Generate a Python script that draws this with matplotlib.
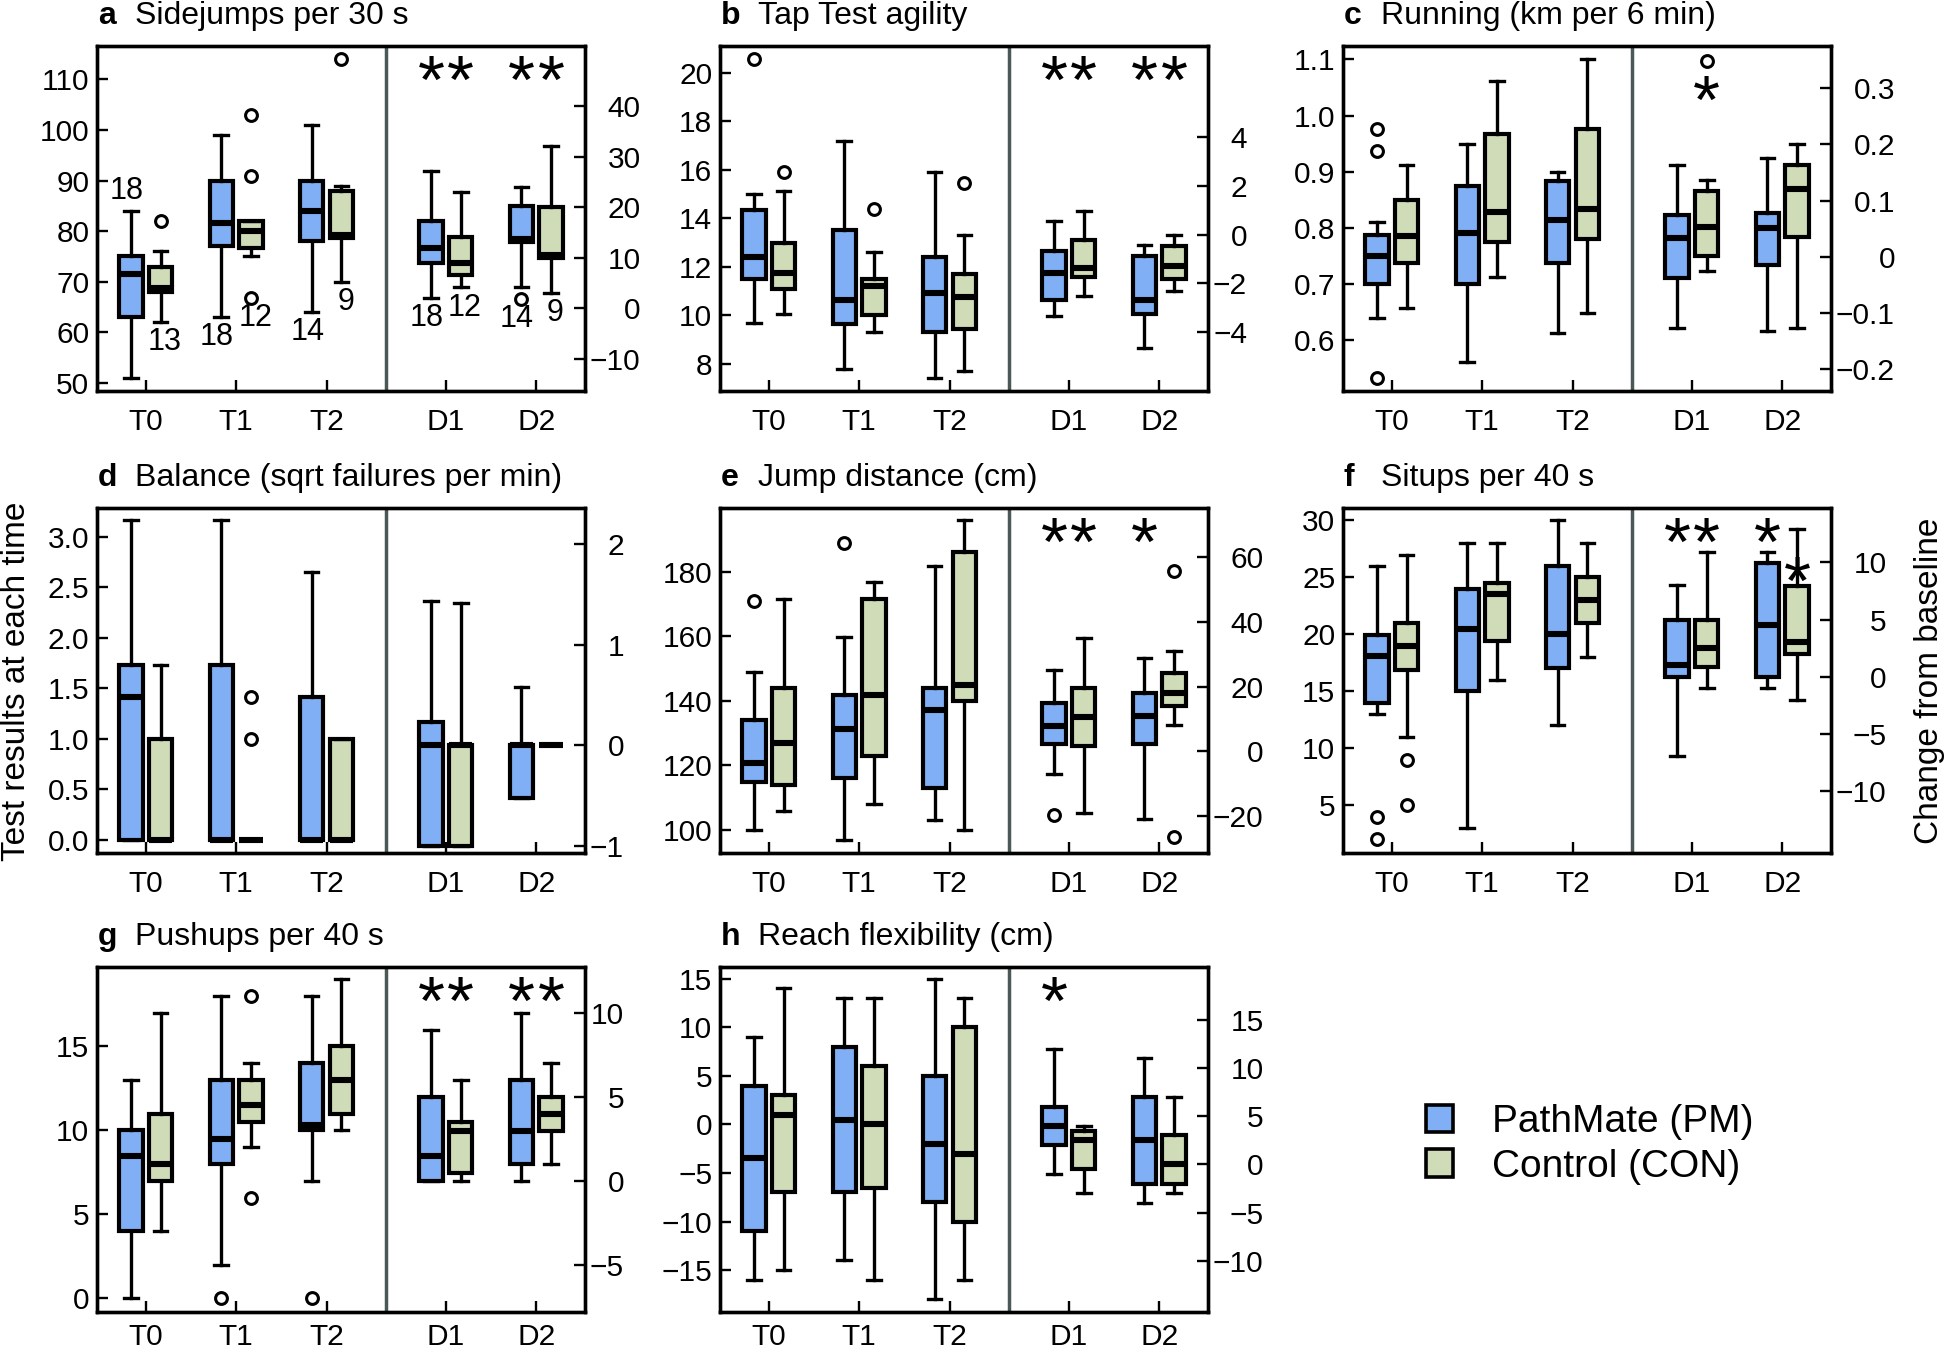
import numpy as np
import matplotlib.pyplot as plt
import matplotlib.transforms as mtransforms
from matplotlib.patches import Patch

plt.rcParams['font.family'] = ['Liberation Sans', 'DejaVu Sans']

times = ['T0', 'T1', 'T2', 'D1', 'D2']
groups = ['PathMate (PM)', 'Control (CON)']

# each row: [low whisker, q1, median, q3, high whisker] for T0, T1, T2, D1, D2
a_pm = [[51, 63, 71.6, 75, 84], [63, 77, 81.6, 90, 99], [64, 78, 84, 90, 101],
        [2.1, 9, 12, 17.3, 27.2], [4.1, 13, 13.7, 20.2, 24]]
a_con = [[62, 68, 68.8, 73, 76], [75, 76.6, 80, 82, 82], [70, 78.7, 79.2, 88, 89],
         [4.1, 6.6, 9, 14.1, 23], [3.1, 10, 10.5, 20.1, 32.1]]
a_pm_out = [[], [], [], [], [1.9]]
a_con_out = [[82], [103, 91, 66.8], [114], [], []]
a_n_pm = [18, 18, 14, 18, 14]
a_n_con = [13, 12, 9, 12, 9]

b_pm = [[9.7, 11.5, 12.4, 14.35, 15.0], [7.77, 9.66, 10.65, 13.5, 17.2], [7.42, 9.3, 10.9, 12.4, 15.9],
        [-3.36, -2.67, -1.58, -0.69, 0.57], [-4.66, -3.26, -2.67, -0.9, -0.42]]
b_con = [[10.06, 11.1, 11.75, 13.0, 15.13], [9.3, 10.0, 11.2, 11.5, 12.6], [7.7, 9.45, 10.74, 11.7, 13.3],
         [-2.51, -1.74, -1.37, -0.21, 0.95], [-2.34, -1.82, -1.3, -0.46, 0.0]]
b_pm_out = [[20.55], [], [], [], []]
b_con_out = [[15.9], [14.4], [15.45], [], []]

c_pm = [[0.64, 0.70, 0.75, 0.788, 0.811], [0.562, 0.70, 0.791, 0.875, 0.95], [0.614, 0.737, 0.814, 0.884, 0.90],
        [-0.126, -0.037, 0.034, 0.075, 0.164], [-0.132, -0.014, 0.051, 0.078, 0.175]]
c_con = [[0.658, 0.737, 0.785, 0.85, 0.912], [0.713, 0.775, 0.828, 0.967, 1.062], [0.649, 0.78, 0.834, 0.976, 1.10],
         [-0.025, 0.001, 0.053, 0.118, 0.137], [-0.126, 0.035, 0.12, 0.164, 0.20]]
c_pm_out = [[0.976, 0.938, 0.534], [], [], [], []]
c_con_out = [[], [], [], [0.349], []]

d_pm = [[0, 0, 1.417, 1.73, 3.17], [0, 0, 0, 1.73, 3.17], [0, 0, 0, 1.41, 2.65],
        [-1, -1, 0, 0.235, 1.437], [-0.52, -0.52, 0, 0, 0.583]]
d_con = [[0, 0, 0, 1.0, 1.73], [0, 0, 0, 0, 0], [0, 0, 0, 1.0, 1.0],
         [-1, -1, 0, 0, 1.417], [0, 0, 0, 0, 0]]
d_pm_out = [[], [], [], [], []]
d_con_out = [[], [1.417, 1.0], [], [], []]

e_pm = [[100, 114.8, 120.75, 134, 148.9], [96.7, 115.9, 131.1, 141.8, 159.8], [102.9, 112.8, 137.1, 143.9, 182],
        [-6.9, 2.1, 7.8, 15, 25], [-21, 2.1, 10.9, 17.9, 28.8]]
e_con = [[105.8, 113.8, 127, 143.9, 171.7], [107.8, 122.9, 141.8, 171.6, 176.9], [100, 140, 144.9, 186.1, 196.1],
         [-19, 1.6, 10.7, 19.5, 35], [8.1, 14.1, 18.1, 24.1, 31.1]]
e_pm_out = [[171], [189], [], [-19.8], []]
e_con_out = [[], [], [], [], [55.9, -26.7]]

f_pm = [[13, 14, 18.1, 19.95, 26], [3, 15, 20.5, 24, 28], [12, 17, 20, 26, 30],
        [-6.96, 0, 1, 5, 8], [-1, 0, 4.5, 9.94, 10.96]]
f_con = [[11, 16.9, 19, 21, 27], [16, 19.45, 23.5, 24.5, 28], [18, 21, 23, 25, 28],
         [-1, 0.88, 2.5, 5, 10.9], [-2, 1.96, 3, 7.9, 12.9]]
f_pm_out = [[4, 2], [], [], [], []]
f_con_out = [[9, 5], [], [], [], []]

g_pm = [[0, 4, 8.5, 10, 13], [2, 8, 9.5, 13, 18], [7, 10, 10.3, 14, 18],
        [0, 0, 1.5, 5, 9], [0, 1, 3, 6, 10]]
g_con = [[4, 7, 8, 11, 17], [9, 10.5, 11.5, 13, 14], [10, 11, 13, 15, 19],
         [0, 0.5, 3, 3.5, 6], [1, 3, 4, 5, 7]]
g_pm_out = [[], [0], [0], [], []]
g_con_out = [[], [18, 6], [], [], []]

h_pm = [[-16, -11, -3.5, 4, 9], [-14, -7, 0.5, 8, 13], [-18, -8, -2, 5, 15],
        [-1, 2, 4, 6, 12], [-4, -2, 2.5, 7, 11]]
h_con = [[-15, -7, 1, 3, 14], [-16, -6.5, 0, 6, 13], [-16, -10, -3, 10, 13],
         [-3, -0.5, 2.5, 3.5, 4], [-3, -2, 0, 3, 7]]
h_pm_out = [[], [], [], [], []]
h_con_out = [[], [], [], [], []]

# significance stars at D1, D2: (PM, CON)
a_sig = [('*', '*'), ('*', '*')]
b_sig = [('*', '*'), ('*', '*')]
c_sig = [('', '*'), ('', '')]
d_sig = [('', ''), ('', '')]
e_sig = [('*', '*'), ('*', '')]
f_sig = [('*', '*'), ('*', '*')]
g_sig = [('*', '*'), ('*', '*')]
h_sig = [('*', ''), ('', '')]

titles = ['Sidejumps per 30 s', 'Tap Test agility', 'Running (km per 6 min)',
          'Balance (sqrt failures per min)', 'Jump distance (cm)', 'Situps per 40 s',
          'Pushups per 40 s', 'Reach flexibility (cm)']
letters = ['a', 'b', 'c', 'd', 'e', 'f', 'g', 'h']

panels = [
    (a_pm, a_con, a_pm_out, a_con_out, a_sig, (48.4, 116.6), (-16.4, 51.9),
     np.arange(50, 111, 10), np.arange(-10, 41, 10), '%g'),
    (b_pm, b_con, b_pm_out, b_con_out, b_sig, (6.88, 21.1), (-6.43, 7.75),
     np.arange(8, 21, 2), np.arange(-4, 5, 2), '%g'),
    (c_pm, c_con, c_pm_out, c_con_out, c_sig, (0.51, 1.124), (-0.2385, 0.375),
     np.arange(0.6, 1.11, 0.1), np.arange(-0.2, 0.31, 0.1), '%.1f'),
    (d_pm, d_con, d_pm_out, d_con_out, d_sig, (-0.132, 3.288), (-1.066, 2.354),
     np.arange(0, 3.01, 0.5), np.arange(-1, 3, 1), '%.1f'),
    (e_pm, e_con, e_pm_out, e_con_out, e_sig, (92.7, 199.9), (-31.5, 75.3),
     np.arange(100, 181, 20), np.arange(-20, 61, 20), '%g'),
    (f_pm, f_con, f_pm_out, f_con_out, f_sig, (0.81, 31.08), (-15.44, 14.77),
     np.arange(5, 31, 5), np.arange(-10, 11, 5), '%g'),
    (g_pm, g_con, g_pm_out, g_con_out, g_sig, (-0.82, 19.73), (-7.8, 12.74),
     np.arange(0, 16, 5), np.arange(-5, 11, 5), '%g'),
    (h_pm, h_con, h_pm_out, h_con_out, h_sig, (-19.3, 16.2), (-15.3, 20.47),
     np.arange(-15, 16, 5), np.arange(-10, 16, 5), '%g'),
]

blue = '#80aff5'
green = '#d0dcb8'
fs = 21.5

W, H = 1946, 1354
fig = plt.figure(figsize=(W / 100, H / 100), dpi=100)

xpos = np.array([1, 2, 3, 4.32, 5.32])
sep = 3.66
off = 0.165
col_left = [97, 720, 1343]
row_top = [46, 508, 967]
xpad = [12, 12, 8]
pw, ph = 488, 345


def fmt(v, f):
    s = f % v
    if s in ('-0', '-0.0'):
        s = s[1:]
    return s.replace('-', '\u2212')


def stats(rows, outs):
    return [dict(whislo=s[0], q1=s[1], med=s[2], q3=s[3], whishi=s[4], fliers=o)
            for s, o in zip(rows, outs)]


def draw_boxes(ax, st, pos, color):
    ax.bxp(st, positions=pos, widths=0.26, capwidths=0.15, patch_artist=True,
           manage_ticks=False,
           boxprops=dict(facecolor=color, edgecolor='k', linewidth=3.0),
           medianprops=dict(color='k', linewidth=4.4, solid_capstyle='butt'),
           whiskerprops=dict(color='k', linewidth=2.4),
           capprops=dict(color='k', linewidth=2.4),
           flierprops=dict(marker='o', markerfacecolor='none', markeredgecolor='k',
                           markersize=8.5, markeredgewidth=2.2))


right_axes = []
for i, (pm, con, pm_out, con_out, sig, ylim_l, ylim_r, lt, rt, lf) in enumerate(panels):
    r, c = divmod(i, 3)
    ax = fig.add_axes([col_left[c] / W, 1 - (row_top[r] + ph) / H, pw / W, ph / H])
    ax2 = ax.twinx()
    right_axes.append(ax2)

    spm = stats(pm, pm_out)
    scon = stats(con, con_out)
    draw_boxes(ax, spm[:3], xpos[:3] - off, blue)
    draw_boxes(ax, scon[:3], xpos[:3] + off, green)
    draw_boxes(ax2, spm[3:], xpos[3:] - off, blue)
    draw_boxes(ax2, scon[3:], xpos[3:] + off, green)

    ax.axvline(sep, color='#4a5858', lw=2.5)
    ax.set_xlim(0.46, 5.86)
    ax.set_ylim(*ylim_l)
    ax2.set_ylim(*ylim_r)
    ax.set_xticks(xpos, times)
    ax.set_yticks(lt, [fmt(v, lf) for v in lt])
    ax2.set_yticks(rt, [fmt(v, '%g') for v in rt])

    for a in (ax, ax2):
        for sp in a.spines.values():
            sp.set_linewidth(2.4)
    ax.tick_params(axis='x', direction='in', length=8, width=1.7, pad=xpad[r], labelsize=fs)
    ax.tick_params(axis='y', direction='in', length=8, width=1.7, pad=5.5, labelsize=fs)
    ax2.tick_params(axis='y', direction='in', length=8, width=1.7, labelsize=fs)

    ax.text(0.0, 1.0, letters[i],
            transform=ax.transAxes + mtransforms.ScaledTranslation(1 / 100, 16 / 72, fig.dpi_scale_trans),
            fontsize=23, fontweight='bold', ha='left', va='baseline')
    ax.text(0.0, 1.0, titles[i],
            transform=ax.transAxes + mtransforms.ScaledTranslation(38 / 100, 16 / 72, fig.dpi_scale_trans),
            fontsize=23, ha='left', va='baseline')

    # significance stars
    bt = mtransforms.blended_transform_factory(ax2.transData, ax2.transAxes)
    for k, (sp_pm, sp_con) in enumerate(sig):
        for s, dx, grp in ((sp_pm, -off, 0), (sp_con, off, 1)):
            if not s:
                continue
            yf = 0.886
            if i == 5 and k == 1 and grp == 1:
                yf = 0.775
            if i == 2:
                yf = 0.83
            ax2.text(xpos[3 + k] + dx, yf, s, transform=bt, fontsize=50,
                     ha='center', va='center')

# sample sizes in panel a
ax_a = fig.axes[0]
ax_a2 = right_axes[0]
for j in range(5):
    for rows, outs, ns, dx, px in ((a_pm, a_pm_out, a_n_pm, -off, -3), (a_con, a_con_out, a_n_con, off, 3)):
        target = ax_a if j < 3 else ax_a2
        lo = min([rows[j][0]] + outs[j])
        y0, y1 = target.get_ylim()
        if lo - y0 < 0.1 * (y1 - y0):
            target.annotate(str(ns[j]), (xpos[j] + dx, rows[j][4]), xytext=(px, 14.5),
                            textcoords='offset points', ha='center', va='center', fontsize=22)
        else:
            target.annotate(str(ns[j]), (xpos[j] + dx, lo), xytext=(px, -14.5),
                            textcoords='offset points', ha='center', va='center', fontsize=22)

fig.text(25 / W, 1 - 681 / H, 'Test results at each time', rotation=90, rotation_mode='anchor',
         ha='center', va='baseline', fontsize=24)
fig.text(1938 / W, 1 - 681 / H, 'Change from baseline', rotation=90, rotation_mode='anchor',
         ha='center', va='baseline', fontsize=24)

handles = [Patch(facecolor=blue, edgecolor='k', linewidth=2.6),
           Patch(facecolor=green, edgecolor='k', linewidth=2.6)]
fig.legend(handles, groups, loc='upper left', bbox_to_anchor=(1426 / W, 1 - 1104 / H),
           frameon=False, fontsize=28, handlelength=0.7, handleheight=0.7,
           handletextpad=1.0, labelspacing=0.22, borderpad=0, borderaxespad=0)

# right-hand tick labels are right-aligned after the widest label
fig.canvas.draw()
rend = fig.canvas.get_renderer()
for ax2 in right_axes:
    labs = [t for t in ax2.get_yticklabels() if t.get_text()]
    w = max(t.get_window_extent(rend).width for t in labs)
    ax2.tick_params(axis='y', pad=(w + 5) * 72 / fig.dpi)
    for t in ax2.get_yticklabels():
        t.set_horizontalalignment('right')

fig.savefig('out.png', dpi=100)
